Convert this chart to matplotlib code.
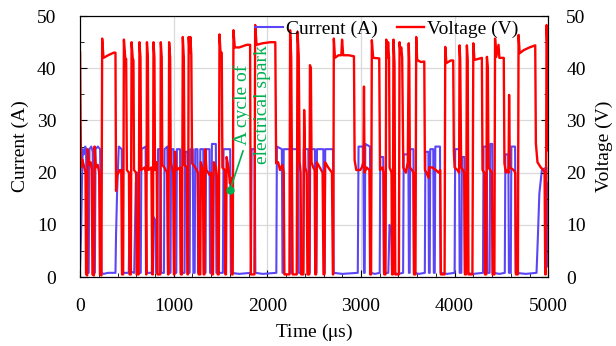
import matplotlib
matplotlib.use("Agg")
import matplotlib.pyplot as plt
from matplotlib.ticker import MultipleLocator

plt.rcParams['font.family'] = ['Liberation Serif', 'DejaVu Serif']
plt.rcParams['mathtext.fontset'] = 'stix'

# voltage trace: time (us), volts
volt_t = [0, 5, 10, 25, 45, 58, 64, 76, 82, 95, 112, 125, 132, 148, 155, 168, 188, 204, 212, 228,
          236, 250, 300, 360, 378, 384, 395, 425, 440, 448, 460, 468, 482, 492, 500, 522, 528, 542,
          550, 562, 570, 576, 598, 604, 626, 634, 645, 652, 690, 700, 706, 708, 714, 724, 730, 762,
          770, 778, 784, 794, 800, 818, 826, 856, 862, 872, 878, 900, 930, 940, 944, 951, 962, 968,
          995, 1002, 1008, 1014, 1030, 1068, 1076, 1088, 1097, 1108, 1115, 1140, 1148, 1152, 1160,
          1170, 1178, 1188, 1196, 1230, 1258, 1266, 1284, 1290, 1312, 1320, 1328, 1336, 1350, 1385,
          1400, 1407, 1420, 1428, 1450, 1462, 1470, 1481, 1489, 1500, 1513, 1520, 1545, 1552, 1558,
          1565, 1585, 1600, 1612, 1620, 1630, 1638, 1652, 1700, 1780, 1816, 1823, 1862, 1870, 1885,
          1950, 2030, 2085, 2094, 2115, 2135, 2160, 2175, 2182, 2236, 2243, 2255, 2262, 2270, 2314,
          2322, 2335, 2345, 2355, 2361, 2385, 2393, 2405, 2420, 2428, 2448, 2455, 2465, 2472, 2490,
          2505, 2512, 2520, 2528, 2560, 2590, 2600, 2610, 2617, 2650, 2690, 2700, 2704, 2710, 2722,
          2760, 2790, 2798, 2810, 2870, 2925, 2932, 2950, 2990, 3010, 3026, 3032, 3038, 3060, 3090,
          3098, 3108, 3116, 3130, 3195, 3203, 3230, 3241, 3248, 3262, 3270, 3282, 3290, 3300, 3306,
          3326, 3332, 3340, 3347, 3358, 3366, 3405, 3412, 3422, 3430, 3440, 3452, 3480, 3500, 3510,
          3516, 3522, 3545, 3560, 3566, 3582, 3590, 3600, 3640, 3676, 3683, 3700, 3722, 3728, 3760,
          3800, 3830, 3846, 3853, 3893, 3900, 3912, 3960, 3985, 3992, 4000, 4030, 4048, 4053, 4060,
          4070, 4090, 4102, 4110, 4122, 4131, 4140, 4148, 4190, 4200, 4212, 4250, 4291, 4298, 4318,
          4324, 4338, 4345, 4355, 4362, 4380, 4398, 4405, 4425, 4432, 4445, 4469, 4478, 4525, 4532,
          4548, 4565, 4576, 4582, 4590, 4630, 4648, 4655, 4676, 4683, 4695, 4740, 4800, 4861, 4868,
          4885, 4920, 4950, 4961, 4968, 4974, 4982, 4992, 5000]
volt_v = [43, 30, 21, 22.5, 21, 20, 0.5, 0.3, 24.5, 21.5, 22, 20.5, 0.5, 0.3, 25, 21, 21.5, 20, 0.5, 0.3,
          45.7, 42, 42.5, 43, 43, 16.5, 19.5, 20.5, 20.5, 0.5, 0.5, 45.5, 42, 41.8, 20.5, 20, 0.5, 0.5,
          45, 42, 41.5, 20.5, 20, 0.5, 0.5, 45, 42, 20.5, 21, 20, 0.5, 0.5, 45, 42, 20.5, 21,
          0.5, 0.5, 45, 42, 20.5, 22, 0.5, 0.5, 45, 42, 21.5, 21, 20, 0.5, 0.5, 45, 42, 22,
          20, 0.5, 0.5, 24, 20.5, 21, 0.5, 0.5, 46, 42, 21.5, 21, 0.5, 0.5, 46,
          43, 46, 42.5, 21.8, 21, 20, 0.5, 0.5, 22, 20.5, 0.5, 0.5, 24.5, 20.5, 19.5,
          20, 0.5, 0.5, 22, 21, 19, 0.5, 0.5, 46.5, 43, 43, 21, 20.5, 0.5, 0.5,
          23, 21, 18, 19, 0.5, 0.5, 47.3, 44, 44, 44.5, 44.5, 0.5, 0.5, 48.3, 44.5,
          44.8, 45, 45, 21.8, 22, 20.5, 21.5, 20, 0.5, 0.5, 47.3, 42, 21, 0.5, 0.5,
          47, 42.5, 22, 20, 0.5, 0.5, 32, 21, 20, 0.5, 0.5, 40.6, 40, 22, 21,
          20.5, 0.5, 0.5, 22, 21, 20, 0.5, 0.5, 22, 21, 20, 0.5, 0.5, 45.7, 42,
          42.5, 42.5, 45.5, 42.5, 42.5, 42.3, 22.4, 20.5, 20.5, 21, 22, 36.5, 20, 21, 20.5,
          0.5, 0.5, 45.4, 42, 41.9, 20.5, 21, 20, 0.5, 0.5, 45.5, 42, 45, 42, 21,
          20, 0.5, 0.5, 45.5, 41, 0.5, 0.5, 45, 43, 44, 42, 21, 20, 22, 44.8,
          41, 21, 20.5, 20, 0.5, 0.5, 46, 41.6, 41.2, 41.3, 20.5, 20, 19, 21, 21,
          20.5, 20, 20.5, 0.5, 0.5, 44.1, 41, 41.5, 41.5, 24, 21, 20.5, 20, 44.4, 41.6,
          21, 20.5, 20, 0.5, 0.5, 44.4, 41.6, 0.5, 0.5, 44.8, 41.6, 41.8, 42, 20.5, 20,
          0.5, 0.5, 42.2, 40, 21, 20.5, 20, 0.5, 0.5, 45.7, 42.2, 44.5, 42, 42, 21.8,
          20, 20.5, 20, 34.9, 21, 20.5, 20, 0.5, 0.5, 46.4, 42.9, 43.5, 44, 44.4, 25.6,
          22, 21, 20.5, 20, 0.5, 0.5, 48.3, 42.9, 24.3]

# current trace: time (us), amps
curr_t = [0, 10, 20, 28, 40, 55, 64, 75, 92, 100, 120, 135, 142, 158, 165, 190, 214, 228, 250, 300,
          378, 384, 395, 413, 445, 456, 520, 530, 545, 578, 595, 612, 620, 648, 655, 700, 708, 766,
          780, 800, 812, 826, 832, 860, 866, 896, 902, 932, 938, 966, 972, 997, 1004, 1028, 1034,
          1068, 1074, 1116, 1122, 1147, 1153, 1170, 1176, 1204, 1210, 1224, 1230, 1254, 1260, 1278,
          1284, 1316, 1322, 1340, 1346, 1382, 1388, 1402, 1408, 1450, 1456, 1525, 1532, 1603, 1610,
          1700, 1825, 1832, 1865, 1872, 1950, 2096, 2102, 2155, 2162, 2168, 2175, 2240, 2246, 2256,
          2262, 2330, 2336, 2382, 2388, 2438, 2444, 2452, 2458, 2508, 2514, 2524, 2530, 2598, 2604,
          2612, 2618, 2702, 2708, 2800, 2966, 2974, 3025, 3032, 3040, 3046, 3096, 3102, 3150, 3200,
          3206, 3238, 3244, 3292, 3305, 3325, 3332, 3400, 3450, 3456, 3506, 3512, 3520, 3526, 3560,
          3566, 3620, 3682, 3688, 3720, 3726, 3734, 3740, 3772, 3778, 3788, 3794, 3844, 3850, 3920,
          4000, 4006, 4048, 4054, 4072, 4078, 4104, 4110, 4200, 4303, 4309, 4343, 4349, 4374, 4380,
          4403, 4409, 4480, 4536, 4542, 4574, 4580, 4600, 4606, 4646, 4652, 4760, 4875, 4890, 4905,
          4932, 4980, 4990, 5000]
curr_a = [2, 8, 18, 24.5, 23.5, 25, 24.5, 0.8, 0.8, 24.5, 25, 24, 0.8, 0.8, 24.5, 25, 24.5, 0.8, 0.6, 0.8,
          0.8, 8, 16, 25, 24.5, 0.8, 0.8, 12.8, 1, 0.8, 18, 20, 0.8, 0.8, 24.5, 25, 0.8, 0.8,
          11.6, 11, 0.8, 0.8, 24.5, 24.5, 0.8, 0.8, 24.5, 25, 0.8, 0.8, 24.5, 24.5, 0.8, 0.8, 24.5,
          24.5, 0.8, 0.8, 24, 24, 0.8, 0.8, 24.5, 24.5, 0.8, 0.8, 24.5, 24.5, 0.8, 0.8,
          24.5, 24.5, 0.8, 0.8, 24.5, 24.5, 0.8, 0.8, 25.5, 25.5, 0.8, 0.8, 24.5, 24.5, 0.8,
          0.6, 0.8, 24.5, 24.5, 0.8, 0.6, 0.8, 25, 24.5, 0.8, 0.8, 24.5, 24.5, 0.8, 0.8,
          24.5, 24.5, 0.8, 0.8, 24.5, 24.5, 0.8, 0.8, 24.5, 24.5, 0.8, 0.8, 24.5, 24.5, 0.8,
          0.8, 24.5, 24.5, 0.8, 0.6, 0.8, 25, 25, 0.8, 0.8, 25.5, 25, 0.8, 0.6, 0.8,
          23, 23, 0.8, 0.8, 10, 9, 0.8, 0.6, 0.8, 23.5, 23.5, 0.8, 0.8, 24.5, 24.5,
          0.8, 0.6, 0.8, 24, 24, 0.8, 0.8, 24.5, 24.5, 0.8, 0.8, 25, 25, 0.8, 0.6,
          0.8, 24.5, 24.5, 0.8, 0.8, 23, 23, 0.8, 0.6, 0.8, 25, 25, 0.8, 0.8, 25.5,
          25.5, 0.8, 0.6, 0.8, 23.5, 23.5, 0.8, 0.8, 25, 25, 0.8, 0.6, 0.8, 8, 16,
          20.5, 21, 2, 18]

# annotation: marked point, end of leader line, text centre
annot_t, annot_v = 1602, 16.7
leader_t, leader_v = 1741, 24.2
label_t, label_v = 1838, 33
green = '#00B050'

fig = plt.figure(figsize=(6.16, 3.46), dpi=100)
ax = fig.add_axes([0.130, 0.1994, 0.760, 0.754])
ax2 = ax.twinx()

l1, = ax.plot(curr_t, curr_a, color='#5A46F5', lw=1.5, label='Current (A)')
l2, = ax2.plot(volt_t, volt_v, color='#FF0000', lw=1.7, label='Voltage (V)')

for a in (ax, ax2):
    a.set_xlim(0, 5000)
    a.set_ylim(0, 50)
    a.yaxis.set_major_locator(MultipleLocator(10))
    a.yaxis.set_minor_locator(MultipleLocator(5))
    a.tick_params(which='both', direction='in', labelsize=14)
    a.tick_params(which='major', length=5)
    a.tick_params(which='minor', length=3)
ax.xaxis.set_major_locator(MultipleLocator(1000))
ax.xaxis.set_minor_locator(MultipleLocator(200))
ax.tick_params(axis='y', pad=17)
ax.tick_params(axis='x', pad=15)
ax2.tick_params(axis='y', pad=13)
ax.grid(True, which='major', color='#D9D9D9', lw=0.9)
ax.set_axisbelow(True)

ax.set_xlabel(r'Time ($\mathrm{\mu}$s)', fontsize=14, labelpad=5)
ax.set_ylabel('Current (A)', fontsize=14, labelpad=6)
ax2.set_ylabel('Voltage (V)', fontsize=14, labelpad=7)

ax2.plot([annot_t], [annot_v], 'o', color=green, ms=5, zorder=5)
ax2.annotate('', xy=(annot_t, annot_v), xytext=(leader_t, leader_v),
             arrowprops=dict(arrowstyle='-', color=green, lw=1.2, shrinkA=0, shrinkB=0))
ax2.text(label_t, label_v, 'A cycle of\nelectrical spark', rotation=90, color=green,
         fontsize=14, ha='center', va='center', linespacing=1.25)

leg = ax2.legend(handles=[l1, l2], loc='upper right', bbox_to_anchor=(0.965, 1.035), ncol=2,
                 frameon=False, fontsize=14, handlelength=1.4, handletextpad=0.15,
                 columnspacing=1.0, borderpad=0.2)

fig.savefig('out.png', dpi=100)
